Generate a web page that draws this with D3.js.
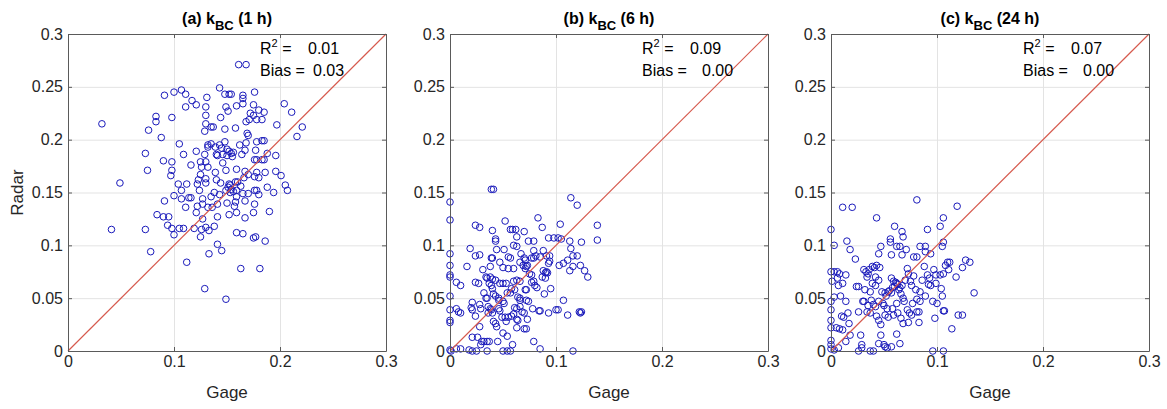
<!DOCTYPE html>
<html>
<head>
<meta charset="utf-8">
<script src="https://cdn.jsdelivr.net/npm/d3@7"></script>
<style>
  body { margin: 0; background: #fff; }
  svg { font-family: "Liberation Sans", Arial, sans-serif; }
</style>
</head>
<body>
<svg id="chart"></svg>
<script>
// panel labels and stats
const panelTags = ["(a)", "(b)", "(c)"];
const panelHours = ["1 h", "6 h", "24 h"];
const r2Values = ["0.01", "0.09", "0.07"];
const biasValues = ["0.03", "0.00", "0.00"];
const xTicks = [0, 0.1, 0.2, 0.3];
const yTicks = [0, 0.05, 0.1, 0.15, 0.2, 0.25, 0.3];

// [gage, radar] pairs
const pointsA = [
  [0.161,0.271],[0.168,0.271],[0.143,0.249],[0.107,0.247],[0.100,0.245],[0.091,0.242],[0.111,0.243],
  [0.131,0.240],[0.148,0.243],[0.152,0.243],[0.154,0.243],[0.165,0.242],[0.165,0.239],[0.176,0.245],
  [0.117,0.237],[0.121,0.233],[0.111,0.231],[0.130,0.231],[0.149,0.231],[0.151,0.227],[0.159,0.232],
  [0.165,0.234],[0.175,0.233],[0.180,0.228],[0.185,0.226],[0.204,0.234],[0.211,0.226],[0.130,0.223],
  [0.144,0.221],[0.083,0.222],[0.083,0.217],[0.098,0.221],[0.032,0.215],[0.076,0.209],[0.130,0.215],
  [0.135,0.212],[0.137,0.212],[0.129,0.208],[0.148,0.210],[0.158,0.211],[0.168,0.217],[0.172,0.225],
  [0.171,0.219],[0.178,0.219],[0.183,0.219],[0.175,0.223],[0.197,0.214],[0.221,0.212],[0.216,0.203],
  [0.169,0.206],[0.170,0.204],[0.088,0.202],[0.105,0.196],[0.132,0.195],[0.132,0.193],[0.143,0.195],
  [0.148,0.198],[0.162,0.195],[0.168,0.197],[0.178,0.198],[0.183,0.199],[0.185,0.199],[0.167,0.190],
  [0.177,0.190],[0.121,0.189],[0.109,0.186],[0.073,0.187],[0.090,0.180],[0.098,0.179],[0.129,0.186],
  [0.140,0.186],[0.141,0.185],[0.146,0.178],[0.155,0.184],[0.164,0.186],[0.176,0.181],[0.178,0.181],
  [0.183,0.181],[0.185,0.181],[0.188,0.187],[0.196,0.185],[0.125,0.179],[0.130,0.179],[0.116,0.176],
  [0.126,0.174],[0.132,0.174],[0.098,0.171],[0.075,0.171],[0.139,0.169],[0.149,0.171],[0.159,0.172],
  [0.167,0.170],[0.170,0.167],[0.178,0.169],[0.186,0.169],[0.196,0.170],[0.201,0.166],[0.097,0.166],
  [0.125,0.167],[0.123,0.162],[0.122,0.158],[0.130,0.163],[0.140,0.162],[0.144,0.159],[0.130,0.159],
  [0.104,0.158],[0.112,0.158],[0.049,0.159],[0.152,0.158],[0.153,0.157],[0.160,0.160],[0.166,0.164],
  [0.176,0.165],[0.180,0.164],[0.188,0.155],[0.205,0.157],[0.207,0.152],[0.124,0.152],[0.107,0.152],
  [0.138,0.150],[0.149,0.152],[0.159,0.152],[0.165,0.149],[0.170,0.149],[0.176,0.152],[0.178,0.152],
  [0.180,0.148],[0.194,0.150],[0.100,0.147],[0.107,0.144],[0.114,0.145],[0.116,0.145],[0.127,0.144],
  [0.135,0.146],[0.143,0.148],[0.159,0.146],[0.091,0.142],[0.127,0.139],[0.141,0.139],[0.150,0.140],
  [0.158,0.141],[0.167,0.142],[0.176,0.139],[0.122,0.137],[0.111,0.136],[0.132,0.136],[0.136,0.136],
  [0.157,0.137],[0.175,0.131],[0.121,0.131],[0.159,0.131],[0.152,0.129],[0.190,0.132],[0.084,0.129],
  [0.090,0.127],[0.095,0.127],[0.127,0.125],[0.141,0.127],[0.167,0.126],[0.094,0.119],[0.138,0.118],
  [0.098,0.116],[0.105,0.116],[0.109,0.116],[0.073,0.115],[0.041,0.115],[0.119,0.116],[0.130,0.117],
  [0.133,0.114],[0.126,0.115],[0.100,0.110],[0.125,0.108],[0.159,0.112],[0.165,0.111],[0.175,0.107],
  [0.177,0.108],[0.186,0.104],[0.141,0.101],[0.145,0.095],[0.078,0.094],[0.133,0.092],[0.112,0.084],
  [0.163,0.078],[0.181,0.078],[0.129,0.059],[0.149,0.049],[0.145,0.192],[0.150,0.191],[0.152,0.189],
  [0.154,0.187],[0.156,0.188],[0.146,0.186],[0.150,0.185],[0.151,0.155],[0.154,0.153],[0.156,0.151],
  [0.153,0.150],[0.135,0.196],[0.139,0.193],[0.163,0.156],[0.158,0.160]
];

const pointsB = [
  [0.039,0.153],[0.041,0.153],[0.000,0.141],[0.114,0.145],[0.120,0.138],[0.000,0.124],[0.052,0.123],
  [0.083,0.126],[0.024,0.119],[0.028,0.117],[0.087,0.117],[0.104,0.120],[0.139,0.119],[0.040,0.114],
  [0.057,0.115],[0.059,0.115],[0.062,0.115],[0.070,0.113],[0.043,0.104],[0.043,0.106],[0.063,0.108],
  [0.074,0.104],[0.079,0.104],[0.093,0.107],[0.098,0.107],[0.102,0.107],[0.105,0.106],[0.113,0.104],
  [0.124,0.103],[0.139,0.105],[0.000,0.092],[0.000,0.081],[0.019,0.097],[0.024,0.090],[0.028,0.091],
  [0.016,0.080],[0.031,0.077],[0.039,0.088],[0.040,0.088],[0.038,0.080],[0.044,0.096],[0.051,0.096],
  [0.055,0.089],[0.057,0.088],[0.047,0.084],[0.050,0.079],[0.055,0.078],[0.060,0.078],[0.060,0.100],
  [0.063,0.099],[0.067,0.092],[0.070,0.088],[0.071,0.086],[0.066,0.084],[0.069,0.081],[0.072,0.080],
  [0.071,0.078],[0.073,0.081],[0.079,0.095],[0.081,0.090],[0.079,0.088],[0.077,0.088],[0.088,0.095],
  [0.085,0.089],[0.091,0.090],[0.094,0.090],[0.093,0.083],[0.094,0.085],[0.088,0.076],[0.090,0.074],
  [0.091,0.075],[0.092,0.074],[0.087,0.070],[0.090,0.069],[0.103,0.081],[0.107,0.083],[0.111,0.086],
  [0.116,0.090],[0.114,0.097],[0.120,0.090],[0.113,0.076],[0.116,0.080],[0.123,0.081],[0.127,0.076],
  [0.130,0.070],[0.000,0.072],[0.000,0.070],[0.000,0.052],[0.000,0.039],[0.000,0.029],[0.000,0.027],
  [0.000,0.001],[0.001,0.000],[0.006,0.065],[0.010,0.062],[0.006,0.040],[0.008,0.037],[0.010,0.036],
  [0.024,0.065],[0.027,0.064],[0.021,0.046],[0.020,0.041],[0.021,0.039],[0.028,0.044],[0.024,0.033],
  [0.029,0.040],[0.032,0.055],[0.034,0.050],[0.035,0.050],[0.034,0.070],[0.035,0.069],[0.038,0.070],
  [0.040,0.068],[0.043,0.067],[0.037,0.064],[0.039,0.062],[0.040,0.059],[0.041,0.054],[0.043,0.052],
  [0.036,0.042],[0.038,0.040],[0.039,0.039],[0.036,0.036],[0.040,0.036],[0.041,0.028],[0.043,0.026],
  [0.044,0.023],[0.046,0.050],[0.046,0.048],[0.047,0.064],[0.050,0.064],[0.053,0.064],[0.050,0.047],
  [0.051,0.045],[0.049,0.032],[0.052,0.032],[0.046,0.040],[0.047,0.038],[0.050,0.017],[0.053,0.028],
  [0.055,0.032],[0.058,0.033],[0.054,0.055],[0.057,0.055],[0.058,0.059],[0.061,0.058],[0.060,0.066],
  [0.063,0.067],[0.066,0.066],[0.064,0.051],[0.066,0.050],[0.066,0.048],[0.061,0.041],[0.063,0.040],
  [0.066,0.042],[0.063,0.022],[0.060,0.035],[0.068,0.037],[0.070,0.036],[0.072,0.048],[0.074,0.047],
  [0.071,0.058],[0.072,0.058],[0.073,0.030],[0.077,0.065],[0.079,0.066],[0.080,0.062],[0.075,0.073],
  [0.077,0.072],[0.082,0.060],[0.078,0.040],[0.084,0.038],[0.085,0.038],[0.089,0.054],[0.095,0.059],
  [0.093,0.036],[0.100,0.039],[0.102,0.039],[0.107,0.048],[0.111,0.034],[0.122,0.037],[0.124,0.037],
  [0.123,0.036],[0.054,0.014],[0.059,0.006],[0.045,0.009],[0.021,0.013],[0.026,0.013],[0.030,0.009],
  [0.032,0.009],[0.035,0.009],[0.037,0.009],[0.029,0.006],[0.079,0.009],[0.085,0.002],[0.006,0.002],
  [0.010,0.002],[0.018,0.001],[0.021,0.000],[0.025,0.000],[0.035,0.000],[0.050,0.000],[0.054,0.000],
  [0.057,0.000],[0.116,0.000],[0.070,0.021],[0.072,0.021],[0.028,0.023],[0.063,0.030],[0.064,0.029]
];

const pointsC = [
  [0.081,0.143],[0.011,0.136],[0.020,0.136],[0.119,0.137],[0.043,0.126],[0.106,0.126],[0.000,0.115],
  [0.060,0.118],[0.067,0.113],[0.068,0.108],[0.091,0.115],[0.103,0.118],[0.106,0.103],[0.105,0.099],
  [0.003,0.100],[0.015,0.104],[0.018,0.096],[0.023,0.087],[0.056,0.106],[0.056,0.103],[0.047,0.099],
  [0.062,0.099],[0.065,0.099],[0.071,0.096],[0.045,0.092],[0.057,0.091],[0.067,0.091],[0.078,0.089],
  [0.081,0.089],[0.084,0.099],[0.089,0.099],[0.094,0.092],[0.089,0.094],[0.000,0.075],[0.001,0.066],
  [0.000,0.047],[0.000,0.039],[0.000,0.029],[0.000,0.022],[0.000,0.010],[0.000,0.006],[0.000,0.002],
  [0.003,0.075],[0.006,0.075],[0.008,0.073],[0.006,0.069],[0.011,0.064],[0.014,0.072],[0.007,0.062],
  [0.009,0.052],[0.014,0.047],[0.003,0.051],[0.010,0.033],[0.012,0.032],[0.016,0.036],[0.017,0.026],
  [0.005,0.022],[0.008,0.021],[0.011,0.020],[0.024,0.061],[0.026,0.061],[0.031,0.077],[0.033,0.075],
  [0.035,0.073],[0.036,0.077],[0.034,0.070],[0.039,0.080],[0.041,0.079],[0.043,0.081],[0.046,0.079],
  [0.042,0.070],[0.045,0.067],[0.039,0.064],[0.042,0.062],[0.032,0.058],[0.037,0.056],[0.030,0.047],
  [0.031,0.047],[0.026,0.037],[0.034,0.037],[0.037,0.036],[0.040,0.044],[0.042,0.042],[0.045,0.047],
  [0.043,0.033],[0.045,0.029],[0.047,0.025],[0.051,0.055],[0.054,0.056],[0.057,0.055],[0.049,0.045],
  [0.050,0.043],[0.053,0.040],[0.051,0.034],[0.054,0.032],[0.057,0.069],[0.059,0.066],[0.060,0.061],
  [0.062,0.064],[0.065,0.060],[0.067,0.062],[0.064,0.058],[0.066,0.054],[0.068,0.050],[0.069,0.047],
  [0.058,0.040],[0.059,0.034],[0.063,0.036],[0.066,0.031],[0.068,0.026],[0.072,0.039],[0.074,0.036],
  [0.076,0.034],[0.073,0.027],[0.072,0.078],[0.073,0.073],[0.078,0.071],[0.076,0.062],[0.080,0.058],
  [0.084,0.056],[0.081,0.049],[0.084,0.047],[0.081,0.037],[0.083,0.037],[0.083,0.027],[0.088,0.080],
  [0.091,0.072],[0.092,0.063],[0.094,0.062],[0.089,0.052],[0.097,0.077],[0.099,0.072],[0.099,0.064],
  [0.103,0.072],[0.106,0.073],[0.104,0.059],[0.105,0.052],[0.096,0.047],[0.100,0.045],[0.106,0.038],
  [0.107,0.038],[0.098,0.031],[0.108,0.081],[0.110,0.084],[0.112,0.084],[0.111,0.077],[0.118,0.070],
  [0.124,0.079],[0.127,0.086],[0.131,0.084],[0.135,0.055],[0.120,0.034],[0.124,0.034],[0.114,0.021],
  [0.028,0.015],[0.018,0.015],[0.014,0.009],[0.007,0.003],[0.003,0.001],[0.029,0.006],[0.026,0.000],
  [0.037,0.000],[0.040,0.000],[0.029,0.003],[0.045,0.007],[0.050,0.006],[0.051,0.004],[0.053,0.003],
  [0.057,0.004],[0.062,0.016],[0.065,0.007],[0.047,0.015],[0.096,0.000],[0.106,0.000],[0.061,0.065],
  [0.063,0.063],[0.058,0.060],[0.055,0.057],[0.070,0.067],[0.075,0.066],[0.048,0.056],[0.052,0.052],
  [0.035,0.043],[0.038,0.048],[0.062,0.045],[0.077,0.045],[0.086,0.067],[0.093,0.069]
];

const allPoints = [pointsA, pointsB, pointsC];

const width = 1167;
const height = 409;
const panelLeft = [68, 450, 831];
const panelTop = 34;
const pw = 318;
const ph = 317;
const biasOffset = [245, 252, 252];

const svg = d3.select("#chart")
  .attr("width", width)
  .attr("height", height);

const x = d3.scaleLinear().domain([0, 0.3]).range([0, pw]);
const y = d3.scaleLinear().domain([0, 0.3]).range([ph, 0]);

const axisColor = "#5a5a5a";
const fmt = d => d === 0 ? "0" : String(+d.toFixed(2));

allPoints.forEach((pts, i) => {
  const g = svg.append("g")
    .attr("transform", "translate(" + panelLeft[i] + "," + panelTop + ")");

  // grid
  g.append("g")
    .attr("transform", "translate(0," + ph + ")")
    .call(d3.axisBottom(x).tickValues(xTicks).tickSize(-ph).tickFormat(""))
    .call(s => s.select(".domain").remove())
    .selectAll("line").attr("stroke", "#e3e3e3");
  g.append("g")
    .call(d3.axisLeft(y).tickValues(yTicks).tickSize(-pw).tickFormat(""))
    .call(s => s.select(".domain").remove())
    .selectAll("line").attr("stroke", "#e3e3e3");

  // scatter
  g.selectAll("circle")
    .data(pts)
    .enter()
    .append("circle")
    .attr("cx", d => x(d[0]))
    .attr("cy", d => y(d[1]))
    .attr("r", 3.3)
    .attr("fill", "none")
    .attr("stroke", "#1a1abb")
    .attr("stroke-width", 1);

  // 1:1 line
  g.append("line")
    .attr("x1", x(0)).attr("y1", y(0))
    .attr("x2", x(0.3)).attr("y2", y(0.3))
    .attr("stroke", "#d65a4e")
    .attr("stroke-width", 1.2);

  // axes (ticks inside, on all four sides)
  const bottom = g.append("g")
    .attr("transform", "translate(0," + ph + ")")
    .call(d3.axisBottom(x).tickValues(xTicks).tickSize(-4).tickSizeOuter(0).tickPadding(5).tickFormat(fmt));
  const left = g.append("g")
    .call(d3.axisLeft(y).tickValues(yTicks).tickSize(-4).tickSizeOuter(0).tickPadding(5).tickFormat(fmt));
  const top = g.append("g")
    .call(d3.axisTop(x).tickValues(xTicks).tickSize(-4).tickSizeOuter(0).tickFormat(""));
  const right = g.append("g")
    .attr("transform", "translate(" + pw + ",0)")
    .call(d3.axisRight(y).tickValues(yTicks).tickSize(-4).tickSizeOuter(0).tickFormat(""));

  [bottom, left, top, right].forEach(a => {
    a.selectAll("line").attr("stroke", axisColor);
    a.select(".domain").attr("stroke", axisColor);
    a.selectAll("text")
      .attr("fill", "#262626")
      .style("font-size", "16px")
      .style("font-family", "'Liberation Sans', Arial, sans-serif");
  });

  // title
  const title = g.append("text")
    .attr("x", pw / 2)
    .attr("y", 24 - panelTop)
    .attr("text-anchor", "middle")
    .attr("font-weight", "bold")
    .attr("font-size", 16)
    .attr("fill", "#000");
  title.append("tspan").text(panelTags[i] + " k");
  title.append("tspan").attr("dy", 6).attr("font-size", 13).text("BC");
  title.append("tspan").attr("dy", -6).text(" (" + panelHours[i] + ")");

  // stats
  const r2 = g.append("text")
    .attr("x", 192).attr("y", 54 - panelTop)
    .attr("font-size", 16).attr("fill", "#000");
  r2.append("tspan").text("R");
  r2.append("tspan").attr("dy", -7).attr("font-size", 11).text("2");
  r2.append("tspan").attr("dy", 7).text(" =");
  g.append("text")
    .attr("x", 240).attr("y", 54 - panelTop)
    .attr("font-size", 16).attr("fill", "#000")
    .text(r2Values[i]);
  g.append("text")
    .attr("x", 192).attr("y", 76 - panelTop)
    .attr("font-size", 16).attr("fill", "#000")
    .text("Bias =");
  g.append("text")
    .attr("x", biasOffset[i]).attr("y", 76 - panelTop)
    .attr("font-size", 16).attr("fill", "#000")
    .text(biasValues[i]);

  // x label
  g.append("text")
    .attr("x", pw / 2)
    .attr("y", 398 - panelTop)
    .attr("text-anchor", "middle")
    .attr("font-size", 17)
    .attr("fill", "#262626")
    .text("Gage");

  if (i === 0) {
    g.append("text")
      .attr("transform", "translate(" + (23 - panelLeft[0]) + "," + ph / 2 + ") rotate(-90)")
      .attr("text-anchor", "middle")
      .attr("font-size", 17)
      .attr("fill", "#262626")
      .text("Radar");
  }
});
</script>
</body>
</html>
